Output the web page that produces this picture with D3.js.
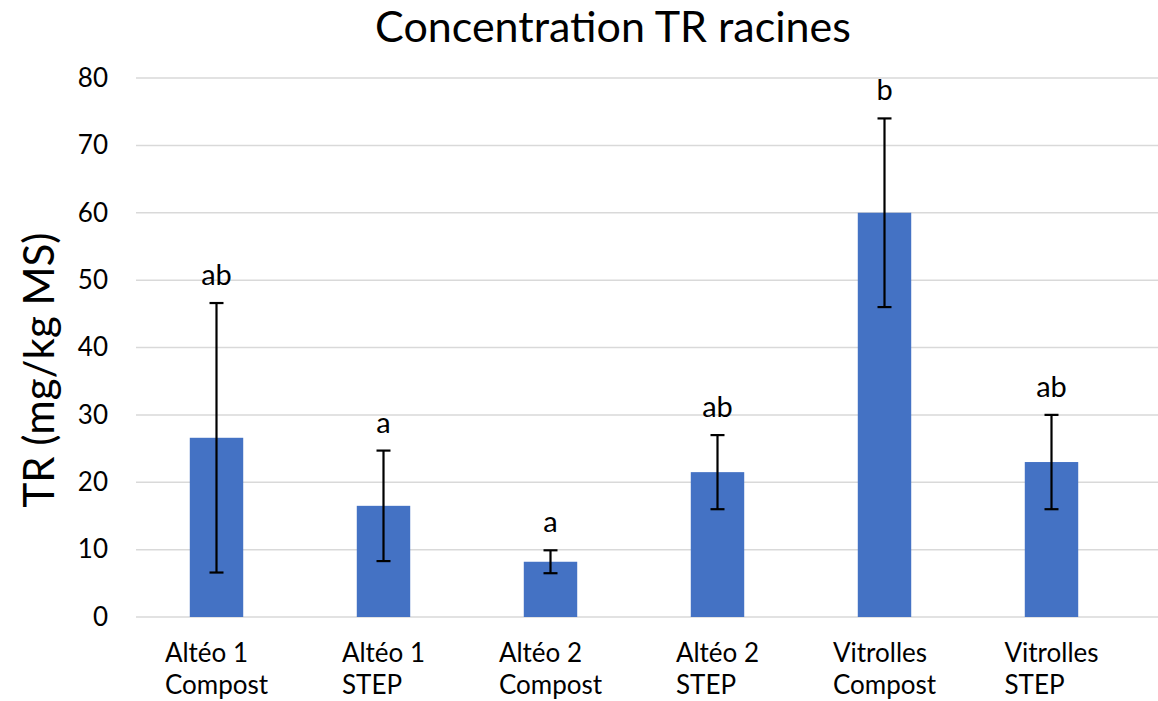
<!DOCTYPE html>
<html><head><meta charset="utf-8">
<script src="https://cdn.jsdelivr.net/npm/d3@7"></script>
<style>body{margin:0;background:#fff}svg{display:block}text{font-family:Lato,"Open Sans",sans-serif;fill:#000}</style>
</head><body><svg id="c" width="1158" height="701"></svg>
<script>
const categories = [["Altéo 1","Compost"],["Altéo 1","STEP"],["Altéo 2","Compost"],["Altéo 2","STEP"],["Vitrolles","Compost"],["Vitrolles","STEP"]];
const means = [26.6, 16.5, 8.2, 21.5, 60, 23];
const errors = [20, 8.2, 1.7, 5.5, 14, 7];
const letters = ["ab","a","a","ab","b","ab"];
const yTicks = [0,10,20,30,40,50,60,70,80];
const title = "Concentration TR racines";
const yTitle = "TR (mg/kg MS)";

const svg = d3.select("#c");
const x = d3.scaleBand().domain(d3.range(categories.length)).range([133,1135]).paddingInner(0.68).paddingOuter(0.34);
const y = d3.scaleLinear().domain([0,80]).range([617,78]);

// gridlines
svg.append("g").selectAll("line").data(yTicks).join("line")
  .attr("x1",136).attr("x2",1158).attr("y1",d=>y(d)).attr("y2",d=>y(d))
  .attr("stroke","#d9d9d9").attr("stroke-width",1.5);

// y axis labels
const ax = svg.append("g").attr("transform","translate(108,0)").call(d3.axisLeft(y).tickValues(yTicks).tickSize(0).tickPadding(0));
ax.select(".domain").remove();
ax.selectAll("text").attr("font-family","Lato").attr("font-size",26).attr("fill","#000");

// bars
svg.append("g").selectAll("rect").data(means).join("rect")
  .attr("x",(d,i)=>x(i)).attr("width",x.bandwidth())
  .attr("y",d=>y(d)).attr("height",d=>y(0)-y(d)).attr("fill","#4472C4");

// error bars
const eb = svg.append("g").attr("stroke","#000").attr("stroke-width",2.2);
means.forEach((m,i)=>{
  const cx = x(i)+x.bandwidth()/2;
  eb.append("line").attr("x1",cx).attr("x2",cx).attr("y1",y(m+errors[i])).attr("y2",y(m-errors[i]));
  [m+errors[i], m-errors[i]].forEach(v=>eb.append("line").attr("x1",cx-7).attr("x2",cx+7).attr("y1",y(v)).attr("y2",y(v)));
});

// letters
svg.append("g").selectAll("text").data(letters).join("text")
  .attr("x",(d,i)=>x(i)+x.bandwidth()/2).attr("y",(d,i)=>y(means[i]+errors[i])-18)
  .attr("text-anchor","middle").attr("font-size",29).text(d=>d);

// category labels: lines left-aligned, block centered
const cg = svg.append("g");
categories.forEach((lines,i)=>{
  const cx = x(i)+x.bandwidth()/2;
  const t = cg.append("text").attr("font-size",26);
  lines.forEach((l,j)=>t.append("tspan").attr("y",662+j*32).text(l));
  const spans = t.selectAll("tspan").nodes();
  const w = d3.max(spans,s=>s.getComputedTextLength());
  t.selectAll("tspan").attr("x",cx-w/2);
});

// title
svg.append("text").attr("x",613).attr("y",42).attr("text-anchor","middle").attr("font-size",43).text(title);
// y title
svg.append("text").attr("transform","translate(54,370) rotate(-90)").attr("text-anchor","middle").attr("font-size",42).text(yTitle);
</script></body></html>
